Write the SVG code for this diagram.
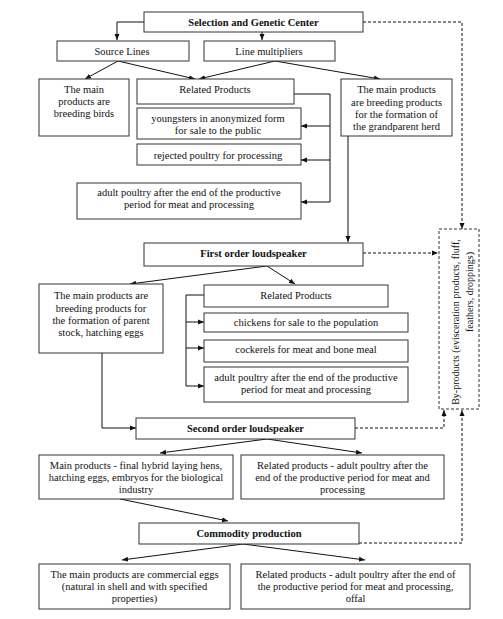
<svg xmlns="http://www.w3.org/2000/svg" width="503" height="619" viewBox="0 0 503 619">
<style>
.b{fill:#fff;stroke:#333;stroke-width:1}
.db{fill:#fff;stroke:#333;stroke-width:1;stroke-dasharray:3,2}
text{font-family:"Liberation Serif","Times New Roman",serif;font-size:10.5px;fill:#111;text-anchor:middle}
.bold{font-weight:bold}
.sm{font-size:10px}
.c{fill:none;stroke:#111;stroke-width:1}
.d{fill:none;stroke:#111;stroke-width:1;stroke-dasharray:3,2}
</style>
<defs>
<marker id="a" markerUnits="userSpaceOnUse" markerWidth="6" markerHeight="6" refX="6" refY="3" orient="auto"><path d="M0,0.5 L6,3 L0,5.5 Z" fill="#111"/></marker>
</defs>
<rect width="503" height="619" fill="#fff"/>
<g id="connectors">
<path class="c" d="M144,22 H117 V40" marker-end="url(#a)"/>
<path class="c" d="M262,32 V40" marker-end="url(#a)"/>
<path class="c" d="M118,61 L85,79" marker-end="url(#a)"/>
<path class="c" d="M118,61 L195,79" marker-end="url(#a)"/>
<path class="c" d="M275,61 L199,79" marker-end="url(#a)"/>
<path class="c" d="M275,61 L380,79" marker-end="url(#a)"/>
<path class="c" d="M294,94 H330 V202"/>
<path class="c" d="M330,126 H301" marker-end="url(#a)"/>
<path class="c" d="M330,160 H301" marker-end="url(#a)"/>
<path class="c" d="M330,202 H301" marker-end="url(#a)"/>
<path class="c" d="M348,136 V242" marker-end="url(#a)"/>
<path class="c" d="M267,266 L130,284" marker-end="url(#a)"/>
<path class="c" d="M267,266 L295,284" marker-end="url(#a)"/>
<path class="c" d="M204,295 H186 V386"/>
<path class="c" d="M186,322 H204" marker-end="url(#a)"/>
<path class="c" d="M186,348 H204" marker-end="url(#a)"/>
<path class="c" d="M186,386 H204" marker-end="url(#a)"/>
<path class="c" d="M102,353 V428 H136" marker-end="url(#a)"/>
<path class="c" d="M267,439 L160,453" marker-end="url(#a)"/>
<path class="c" d="M267,439 L362,453" marker-end="url(#a)"/>
<path class="c" d="M120,499 L228,521" marker-end="url(#a)"/>
<path class="c" d="M243,544 L122,560" marker-end="url(#a)"/>
<path class="c" d="M243,544 L365,560" marker-end="url(#a)"/>
<path class="d" d="M363,22 H462 V229" marker-end="url(#a)"/>
<path class="d" d="M363,253 H438" marker-end="url(#a)"/>
<path class="d" d="M355,428 H444 V410" marker-end="url(#a)"/>
<path class="d" d="M359,543 H462 V410" marker-end="url(#a)"/>
</g>
<g id="n1"><rect class="b" x="144" y="12" width="219" height="20"/><text class="bold" x="253.5" y="25.5">Selection and Genetic Center</text></g>
<g id="n2"><rect class="b" x="57" y="41" width="132" height="20"/><text x="122" y="54.5">Source Lines</text></g>
<g id="n3"><rect class="b" x="204" y="41" width="131" height="20"/><text x="269" y="54.5">Line multipliers</text></g>
<g id="n4"><rect class="b" x="39" y="79" width="90" height="57"/><text x="84" y="93">The main</text><text x="84" y="105">products are</text><text x="84" y="117">breeding birds</text></g>
<g id="n5"><rect class="b" x="137" y="79" width="157" height="25"/><text x="215" y="93">Related Products</text></g>
<g id="n6"><rect class="b" x="341" y="79" width="111" height="57"/><text x="396.5" y="93">The main products</text><text x="396.5" y="105.5">are breeding products</text><text x="396.5" y="117.5">for the formation of</text><text x="396.5" y="130">the grandparent herd</text></g>
<g id="n7"><rect class="b" x="137" y="108" width="164" height="31"/><text x="218" y="122">youngsters in anonymized form</text><text x="218" y="134">for sale to the public</text></g>
<g id="n8"><rect class="b" x="137" y="144" width="164" height="21"/><text x="218" y="158.5">rejected poultry for processing</text></g>
<g id="n9"><rect class="b" x="77" y="183" width="224" height="36"/><text x="189" y="196">adult poultry after the end of the productive</text><text x="189" y="208">period for meat and processing</text></g>
<g id="n10"><rect class="b" x="144" y="243" width="219" height="23"/><text class="bold" x="253.5" y="257">First order loudspeaker</text></g>
<g id="n11"><rect class="b" x="39" y="284" width="124" height="69"/><text x="101" y="299">The main products are</text><text x="101" y="311.5">breeding products for</text><text x="101" y="323.5">the formation of parent</text><text x="101" y="336">stock, hatching eggs</text></g>
<g id="n12"><rect class="b" x="204" y="285" width="184" height="22"/><text x="296" y="299">Related Products</text></g>
<g id="n13"><rect class="b" x="204" y="313" width="204" height="19"/><text x="306" y="326">chickens for sale to the population</text></g>
<g id="n14"><rect class="b" x="204" y="340" width="204" height="22"/><text x="306" y="353">cockerels for meat and bone meal</text></g>
<g id="n15"><rect class="b" x="204" y="367" width="204" height="35"/><text x="306" y="381">adult poultry after the end of the productive</text><text x="306" y="393">period for meat and processing</text></g>
<g id="n16"><rect class="b" x="136" y="418" width="219" height="21"/><text class="bold" x="245.5" y="432">Second order loudspeaker</text></g>
<g id="n17"><rect class="db" x="439" y="229" width="40" height="180"/><text class="sm" transform="translate(459,322) rotate(-90)">By-products (evisceration products, fluff,</text><text class="sm" transform="translate(473,292) rotate(-90)">feathers, droppings)</text></g>
<g id="n18"><rect class="b" x="39" y="455" width="194" height="44"/><text x="136" y="469">Main products - final hybrid laying hens,</text><text x="136" y="481">hatching eggs, embryos for the biological</text><text x="136" y="492.5">industry</text></g>
<g id="n19"><rect class="b" x="241" y="455" width="203" height="44"/><text x="342.5" y="469">Related products - adult poultry after the</text><text x="342.5" y="481">end of the productive period for meat and</text><text x="342.5" y="492.5">processing</text></g>
<g id="n20"><rect class="b" x="139" y="523" width="220" height="21"/><text class="bold" x="249" y="537">Commodity production</text></g>
<g id="n21"><rect class="b" x="39" y="564" width="191" height="45"/><text x="134.5" y="578">The main products are commercial eggs</text><text x="134.5" y="590">(natural in shell and with specified</text><text x="134.5" y="602">properties)</text></g>
<g id="n22"><rect class="b" x="241" y="564" width="229" height="45"/><text x="355.5" y="578">Related products - adult poultry after the end of</text><text x="355.5" y="590">the productive period for meat and processing,</text><text x="355.5" y="602">offal</text></g>
</svg>
